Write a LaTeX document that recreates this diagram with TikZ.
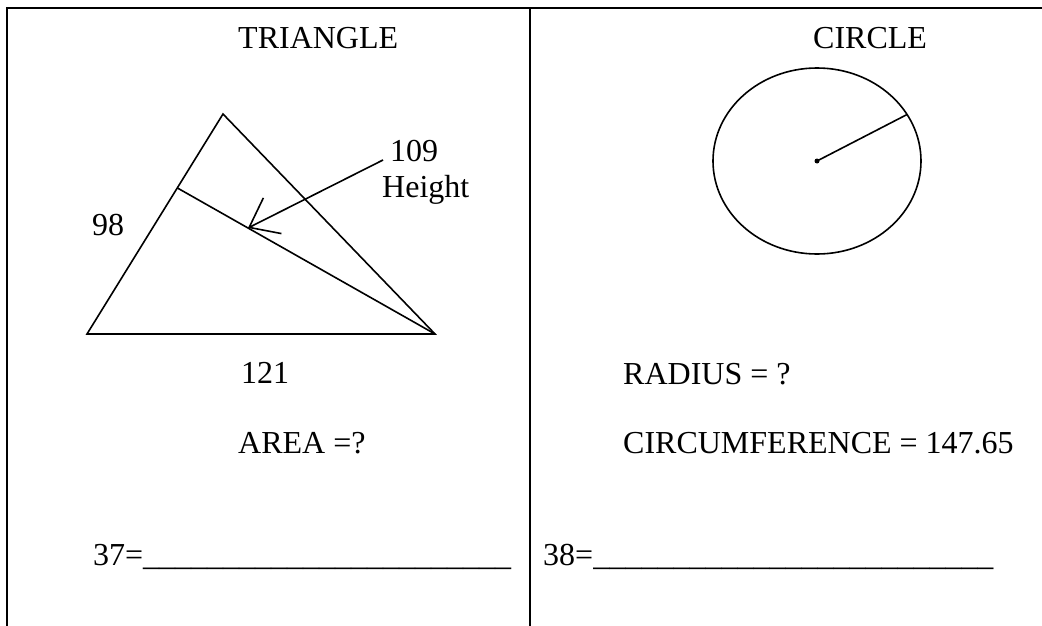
\documentclass[tikz,border=0pt]{standalone}
\usepackage{fontspec}
\setmainfont{Liberation Serif}
\usetikzlibrary{arrows.meta,positioning,calc}

\begin{document}
\begin{tikzpicture}[x=1pt, y=-1pt,
    lbl/.style={anchor=base west, inner sep=0pt, font=\fontsize{32}{38}\selectfont},
    rule/.style={line width=2pt},
    shape line/.style={line width=1.6pt, line join=miter}
  ]
    \useasboundingbox (0,0) rectangle (1042,626);

    % Page rules
    \coordinate (tl) at (7,8);
    \coordinate (tm) at (530,8);
    \coordinate (tr) at (1042,8);
    \coordinate (bl) at (7,626);
    \coordinate (bm) at (530,626);
    \draw[rule] (tr) -- (tl) -- (bl);
    \draw[rule] (tm) -- (bm);

    % Titles
    \node[lbl] (tri)  at (238,49) {TRIANGLE};
    \node[lbl] (circ) at (813,49) {CIRCLE};

    % Triangle with its height
    \coordinate (ta) at (87,334);
    \coordinate (tb) at (223,114);
    \coordinate (tc) at (435,334);
    \coordinate (foot) at ($(ta)!0.664!(tb)$);
    \draw[shape line] (ta) -- (tb) -- (tc) -- cycle;
    \draw[shape line] (foot) -- (tc);

    \node[lbl] (h109)   at (390,161) {109};
    \node[lbl] (height) at (382,197) {Height};
    \node[lbl] (s98)    at (92,235)  {98};
    \node[lbl] (s121)   at (241,383) {121};
    \node[lbl] (area)   at (238,453) {AREA =?};

    \coordinate (htail) at (383,160);
    \coordinate (htip)  at (248,228);
    \draw[shape line, -{Straight Barb[length=26pt, width=40pt]}] (htail) -- (htip);

    % Circle with a radius
    \coordinate (ctr) at (817,161);
    \draw[shape line] (ctr) ellipse [x radius=104, y radius=93];
    \draw[shape line] (ctr) -- ++(30:104 and -93) coordinate (rim);
    \fill (ctr) circle [radius=2.5];

    \node[lbl] (radius) at (623,384) {RADIUS = ?};
    \node[lbl] (circum) at (623,453) {CIRCUMFERENCE = 147.65};

    % Answer lines
    \node[lbl] (q37) at (93,565)  {37=\_\_\_\_\_\_\_\_\_\_\_\_\_\_\_\_\_\_\_\_\_\_\_};
    \node[lbl] (q38) at (543,565) {38=\_\_\_\_\_\_\_\_\_\_\_\_\_\_\_\_\_\_\_\_\_\_\_\_\_};
  \end{tikzpicture}
\end{document}
